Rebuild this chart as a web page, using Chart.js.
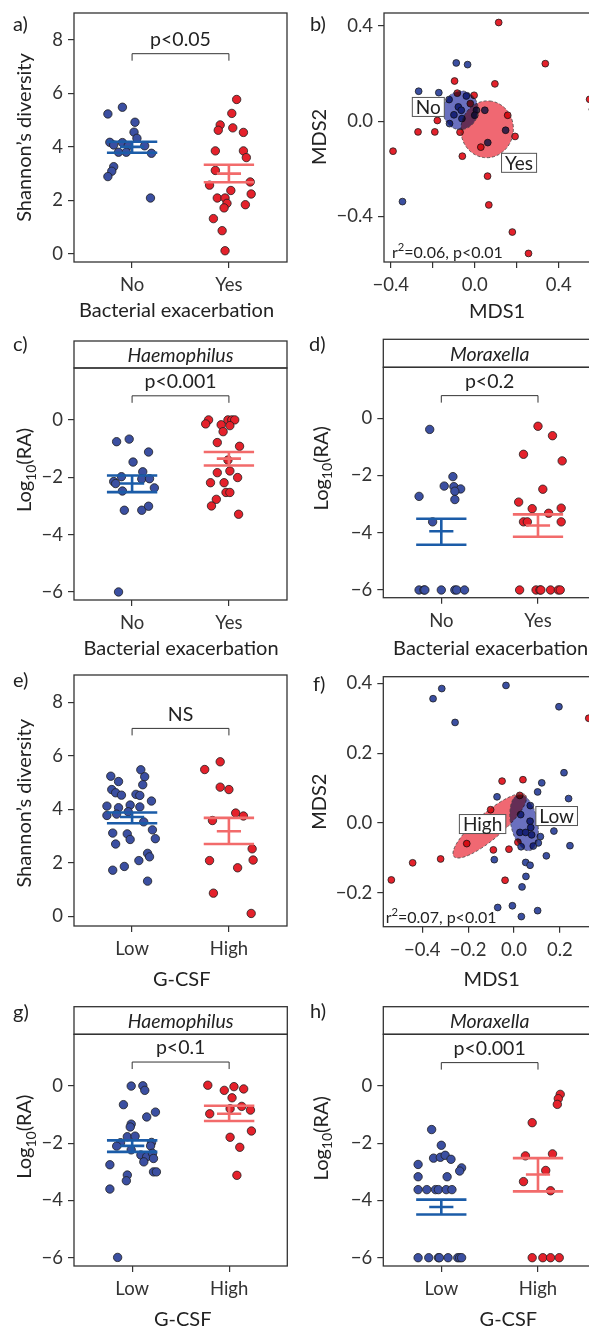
<!DOCTYPE html>
<html>
<head>
<meta charset="utf-8">
<script src="https://cdn.jsdelivr.net/npm/chart.js@4.4.0/dist/chart.umd.min.js"></script>
<style>
  html, body { margin: 0; padding: 0; background: #fff; overflow: hidden; }
  #fig { position: relative; width: 589px; height: 1329px; overflow: hidden; }
  #fig canvas { position: absolute; }
</style>
</head>
<body>
<div id="fig"></div>
<script>
// ---------- data ----------
const catsExac = ["No", "Yes"];
const catsGcsf = ["Low", "High"];

const shannonTicks = [0, 2, 4, 6, 8];
const logTicks = [-6, -4, -2, 0];
const bMds1Ticks = [-0.4, -0.2, 0, 0.2, 0.4];
const bMds1Labels = ["−0.4", "", "0.0", "", "0.4"];
const bMds2Ticks = [-0.4, 0, 0.4];
const bMds2Labels = ["−0.4", "0.0", "0.4"];
const fMds1Ticks = [-0.4, -0.2, 0, 0.2];
const fMds1Labels = ["−0.4", "−0.2", "0.0", "0.2"];
const fMds2Ticks = [-0.2, 0, 0.2, 0.4];
const fMds2Labels = ["−0.2", "0.0", "0.2", "0.4"];

// a) Shannon's diversity vs bacterial exacerbation (jitter = offset from category)
const aNoY = [5.23, 5.48, 4.92, 4.55, 4.32, 4.17, 4.07, 4.16, 4.04, 4.04, 3.80, 3.80, 3.76, 3.26, 3.09, 2.89, 2.09];
const aNoJit = [-0.25, -0.10, 0.03, 0.02, 0.05, -0.23, -0.19, -0.10, -0.04, 0.13, -0.14, -0.06, 0.20, -0.19, -0.21, -0.25, 0.19];
const aYesY = [5.77, 5.25, 4.82, 4.62, 4.71, 4.54, 3.85, 3.85, 3.60, 3.12, 2.57, 2.69, 2.37, 2.24, 2.09, 2.09, 1.89, 1.72, 1.84, 1.32, 0.87, 0.12];
const aYesJit = [0.08, 0.03, -0.09, -0.11, 0.04, 0.15, -0.14, 0.15, 0.18, -0.14, -0.20, 0.22, 0.02, 0.23, -0.12, -0.04, -0.02, -0.05, 0.17, -0.16, -0.07, -0.04];
const aErr = [[4.0, 3.78, 4.19], [3.0, 2.68, 3.33]]; // mean, low, high

// b) MDS by bacterial exacerbation
const bNoMds1 = [-0.088, -0.034, -0.267, -0.171, -0.122, -0.040, -0.078, -0.064, -0.099, -0.061, -0.120, 0.008, 0.000, 0.048, 0.147, 0.062, -0.344];
const bNoMds2 = [0.245, 0.238, 0.126, 0.120, 0.091, 0.106, 0.060, 0.046, 0.027, 0.011, -0.010, 0.046, 0.025, 0.046, -0.038, -0.090, -0.338];
const bYesMds1 = [0.114, 0.336, -0.096, 0.096, -0.083, -0.003, -0.021, -0.270, -0.190, -0.178, 0.157, -0.070, 0.192, 0.029, -0.059, -0.389, 0.061, 0.067, 0.179, 0.256, 0.547, 0.560];
const bYesMds2 = [0.415, 0.242, 0.169, 0.157, 0.118, 0.109, 0.074, -0.045, -0.045, 0.003, 0.025, -0.046, -0.064, -0.109, -0.147, -0.126, -0.231, -0.352, -0.466, -0.556, 0.092, 0.050];
// ellipses (red group first): centre, end of one axis, end of other axis
const bEllipses = [
  [0.059, -0.034, 0.072, 0.085, 0.184, -0.034],
  [-0.067, 0.046, -0.056, 0.127, 0.016, 0.039]
];
const bLabels = [["No", -0.221, 0.060], ["Yes", 0.211, -0.175]];

// c) Haemophilus vs bacterial exacerbation
const cNoY = [-0.76, -0.67, -1.12, -1.47, -1.81, -1.98, -2.15, -2.22, -2.48, -2.06, -2.05, -2.37, -3.15, -3.15, -3.01, -6.0];
const cNoJit = [-0.16, -0.03, 0.17, 0.01, 0.11, -0.11, -0.19, -0.17, -0.10, 0.10, 0.18, 0.23, -0.08, 0.10, 0.17, -0.14];
const cYesY = [0.0, -0.14, -0.17, 0.0, 0.0, 0.0, -0.20, -0.41, -0.79, -0.92, -1.40, -1.84, -1.78, -2.01, -2.19, -2.19, -2.53, -2.53, -2.77, -3.0, -3.29];
const cYesJit = [-0.21, -0.24, -0.08, -0.01, 0.03, 0.06, 0.01, -0.06, -0.12, 0.11, -0.01, -0.12, 0.01, 0.09, -0.19, -0.05, -0.03, 0.01, -0.13, -0.18, 0.10];
const cErr = [[-2.22, -2.52, -1.94], [-1.35, -1.59, -1.12]];

// d) Moraxella vs bacterial exacerbation
const dNoY = [-0.39, -2.04, -2.37, -2.39, -2.47, -2.55, -2.84, -2.73, -3.62, -6, -6, -6, -6, -6, -6, -6];
const dNoJit = [-0.12, 0.12, 0.03, 0.13, 0.20, 0.14, 0.14, -0.23, -0.09, -0.23, -0.18, -0.17, 0.0, 0.14, 0.16, 0.24];
const dYesY = [-0.28, -0.61, -1.26, -1.49, -2.48, -2.93, -3.16, -3.14, -3.32, -3.62, -3.62, -3.62, -6, -6, -6, -6, -6, -6, -6];
const dYesJit = [0.0, 0.15, -0.15, 0.25, 0.05, -0.20, -0.06, 0.24, 0.11, -0.15, -0.11, 0.24, -0.19, -0.02, 0.02, 0.03, 0.13, 0.21, 0.23];
const dErr = [[-3.95, -4.42, -3.51], [-3.75, -4.14, -3.36]];

// e) Shannon's diversity vs G-CSF
const eLowY = [5.24, 5.04, 5.48, 5.22, 4.92, 4.74, 4.62, 4.53, 4.56, 4.52, 4.31, 4.12, 4.06, 4.16, 4.09, 3.91, 3.77, 3.82, 3.53, 3.23, 2.90, 3.11, 3.08, 2.87, 2.70, 2.35, 2.22, 2.08, 1.86, 1.72, 1.31];
const eLowJit = [-0.22, -0.14, 0.09, 0.13, 0.11, -0.21, -0.17, -0.11, 0.04, 0.08, 0.20, -0.26, -0.14, -0.02, 0.08, -0.04, -0.26, -0.16, 0.12, 0.21, 0.24, -0.20, -0.05, -0.02, -0.17, 0.16, 0.18, 0.07, -0.08, -0.20, 0.16];
const eHighY = [5.78, 5.49, 4.83, 4.74, 3.86, 3.75, 3.58, 2.08, 2.52, 2.10, 1.81, 0.86, 0.10];
const eHighJit = [-0.09, -0.25, -0.09, 0.0, 0.07, 0.15, -0.17, -0.20, 0.24, 0.25, 0.09, -0.16, 0.23];
const eErr = [[3.71, 3.48, 3.88], [3.18, 2.70, 3.68]];

// f) MDS by G-CSF
const fLowMds1 = [-0.353, -0.315, -0.257, -0.035, 0.196, 0.218, 0.121, 0.103, 0.238, -0.074, 0.071, 0.029, 0.070, 0.073, 0.026, 0.051, 0.077, 0.115, 0.106, 0.084, 0.031, 0.174, 0.244, 0.141, -0.086, 0.051, 0.070, 0.052, 0.035, -0.071, -0.007, 0.032, 0.103];
const fLowMds2 = [0.356, 0.385, 0.288, 0.394, 0.333, 0.144, 0.115, 0.089, 0.070, 0.075, 0.050, 0.024, 0.005, -0.013, -0.027, -0.027, -0.034, -0.039, -0.057, -0.066, -0.068, -0.023, -0.065, -0.094, -0.105, -0.113, -0.121, -0.153, -0.183, -0.242, -0.237, -0.268, -0.251];
const fHighMds1 = [-0.052, 0.039, -0.102, 0.025, -0.206, -0.090, -0.022, 0.017, -0.320, -0.442, -0.535, -0.039, 0.326];
const fHighMds2 = [0.120, 0.124, 0.038, 0.079, -0.059, -0.077, -0.075, -0.055, -0.103, -0.114, -0.163, -0.164, 0.300];
const fEllipses = [
  [-0.106, -0.008, 0.050, 0.080, -0.069, -0.036],
  [0.044, 0.001, 0.020, 0.081, 0.101, 0.010]
];
const fLabels = [["High", -0.137, -0.003], ["Low", 0.186, 0.020]];

// g) Haemophilus vs G-CSF
const gLowY = [0.0, 0.01, -0.15, -0.65, -0.91, -1.08, -1.33, -1.43, -1.77, -1.75, -1.98, -2.10, -1.97, -2.09, -2.23, -2.41, -2.47, -2.35, -2.53, -2.65, -2.75, -3.11, -3.31, -3.0, -3.0, -3.60, -5.99];
const gLowJit = [-0.01, 0.11, 0.13, -0.09, 0.24, 0.15, -0.01, -0.02, -0.05, 0.03, -0.12, -0.16, 0.20, 0.19, -0.01, 0.09, 0.15, 0.21, 0.22, 0.12, -0.23, -0.05, -0.06, 0.22, 0.25, -0.23, -0.15];
const gHighY = [0.03, -0.15, -0.02, -0.10, -0.41, -0.97, -0.79, -0.71, -0.84, -1.57, -1.79, -2.14, -3.12];
const gHighJit = [-0.22, -0.05, 0.05, 0.15, 0.03, -0.20, 0.01, 0.13, 0.22, 0.23, 0.01, 0.11, 0.08];
const gErr = [[-2.09, -2.30, -1.90], [-0.97, -1.22, -0.69]];

// h) Moraxella vs G-CSF
const hLowY = [-1.52, -2.07, -2.52, -2.49, -2.42, -2.56, -2.74, -2.86, -2.97, -3.17, -3.17, -3.62, -3.62, -3.62, -3.62, -3.62, -3.62, -6, -6, -6, -6, -6, -6, -6, -6];
const hLowJit = [-0.10, 0.0, -0.08, -0.01, 0.04, 0.10, -0.24, 0.21, 0.19, -0.24, 0.06, -0.24, -0.15, -0.06, -0.03, 0.05, 0.11, -0.24, -0.13, -0.03, -0.02, 0.07, 0.17, 0.19, 0.21];
const hHighY = [-0.29, -0.44, -0.64, -1.28, -2.44, -2.37, -2.95, -3.34, -3.66, -6, -6, -6, -6];
const hHighJit = [0.23, 0.21, 0.20, -0.06, -0.13, 0.15, 0.08, -0.15, 0.13, -0.06, 0.05, 0.13, 0.22];
const hErr = [[-4.23, -4.49, -3.97], [-3.09, -3.68, -2.52]];

// ---------- styling ----------
const FONT = "Lato, 'Open Sans', sans-serif";
const TXT = "#222222";
const AXIS = "#333333";
const BLUE = "#3b4fa1";
const RED = "#e4212b";
const BLUE_ERR = "#1b5ca8";
const RED_ERR = "#f26b6b";
const ELL_FILL = ["#f06872", "#6a70bf"];

Chart.defaults.font.family = FONT;
Chart.defaults.color = TXT;

// category + jitter -> points
function jittered(cat, ys, jit) {
  return ys.map((v, i) => ({ x: cat + jit[i], y: v }));
}
function paired(xs, ys) {
  return xs.map((v, i) => ({ x: v, y: ys[i] }));
}

// text with _{sub} / ^{sup} pieces
function richText(ctx, str, x, y, size, align, rotate) {
  const parts = str.split(/(_\{[^}]*\}|\^\{[^}]*\})/).filter(s => s);
  const segs = parts.map(p => {
    if (p[0] === "_") return { t: p.slice(2, -1), s: size * 0.7, dy: size * 0.3 };
    if (p[0] === "^") return { t: p.slice(2, -1), s: size * 0.7, dy: -size * 0.35 };
    return { t: p, s: size, dy: 0 };
  });
  let w = 0;
  segs.forEach(g => { ctx.font = `${g.s}px ${FONT}`; g.w = ctx.measureText(g.t).width; w += g.w; });
  ctx.save();
  ctx.translate(x, y);
  if (rotate) ctx.rotate(-Math.PI / 2);
  ctx.textBaseline = "middle";
  ctx.textAlign = "left";
  let cx = align === "left" ? 0 : -w / 2;
  segs.forEach(g => {
    ctx.font = `${g.s}px ${FONT}`;
    ctx.fillText(g.t, cx, g.dy);
    cx += g.w;
  });
  ctx.restore();
}

function makeDeco(cfg) {
  return {
    id: "deco",
    afterDatasetsDraw(chart) {
      const ctx = chart.ctx, xs = chart.scales.x, ys = chart.scales.y;
      const px = v => xs.getPixelForValue(v), py = v => ys.getPixelForValue(v);
      ctx.save();
      // mean +/- SE bars
      if (cfg.err) {
        cfg.err.forEach((e, i) => {
          const c = i + 1;
          ctx.strokeStyle = i === 0 ? BLUE_ERR : RED_ERR;
          ctx.lineWidth = 2.6;
          ctx.beginPath();
          ctx.moveTo(px(c - 0.26), py(e[2])); ctx.lineTo(px(c + 0.26), py(e[2]));
          ctx.moveTo(px(c - 0.26), py(e[1])); ctx.lineTo(px(c + 0.26), py(e[1]));
          ctx.moveTo(px(c - 0.125), py(e[0])); ctx.lineTo(px(c + 0.125), py(e[0]));
          ctx.moveTo(px(c), py(e[1])); ctx.lineTo(px(c), py(e[2]));
          ctx.stroke();
        });
      }
      // group ellipses, blended over the points
      if (cfg.ellipses) {
        cfg.ellipses.forEach((el, i) => {
          const cx = px(el[0]), cy = py(el[1]);
          const ax = px(el[2]) - cx, ay = py(el[3]) - cy;
          const bx = px(el[4]) - cx, by = py(el[5]) - cy;
          const rx = Math.hypot(ax, ay), ry = Math.hypot(bx, by);
          const ang = Math.atan2(ay, ax);
          ctx.beginPath();
          ctx.ellipse(cx, cy, rx, ry, ang, 0, Math.PI * 2);
          ctx.globalCompositeOperation = "multiply";
          ctx.fillStyle = ELL_FILL[i];
          ctx.fill();
          ctx.globalCompositeOperation = "source-over";
          ctx.setLineDash([3, 2]);
          ctx.strokeStyle = "#444";
          ctx.lineWidth = 0.8;
          ctx.stroke();
          ctx.setLineDash([]);
        });
      }
      if (cfg.labels) {
        cfg.labels.forEach(l => {
          ctx.font = `19px ${FONT}`;
          const w = ctx.measureText(l[0]).width + 7, h = 19;
          const x = px(l[1]), y = py(l[2]);
          ctx.fillStyle = "#fff";
          ctx.fillRect(x - w / 2, y - h / 2, w, h);
          ctx.strokeStyle = "#555";
          ctx.lineWidth = 1;
          ctx.strokeRect(x - w / 2, y - h / 2, w, h);
          ctx.fillStyle = TXT;
          ctx.textAlign = "center";
          ctx.textBaseline = "middle";
          ctx.fillText(l[0], x, y + 1);
        });
      }
      ctx.restore();
    },
    afterDraw(chart) {
      const ctx = chart.ctx, a = chart.chartArea;
      const xs = chart.scales.x, ys = chart.scales.y;
      const ox = cfg.pos[0], oy = cfg.pos[1];
      ctx.save();
      ctx.strokeStyle = AXIS;
      ctx.lineWidth = 1.3;
      ctx.strokeRect(a.left, a.top, a.right - a.left, a.bottom - a.top);
      ctx.fillStyle = TXT;
      if (cfg.strip) {
        const st = cfg.strip[1] - oy;
        ctx.strokeRect(a.left, st, a.right - a.left, a.top - st);
        ctx.font = `italic 19.5px ${FONT}`;
        ctx.textAlign = "center";
        ctx.textBaseline = "middle";
        ctx.fillText(cfg.strip[0], (a.left + a.right) / 2, (st + a.top) / 2 + 1);
      }
      if (cfg.bracket) {
        const yb = ys.getPixelForValue(cfg.bracket[0]);
        const x1 = xs.getPixelForValue(1), x2 = xs.getPixelForValue(2);
        ctx.lineWidth = 1;
        ctx.beginPath();
        ctx.moveTo(x1, yb + 7); ctx.lineTo(x1, yb); ctx.lineTo(x2, yb); ctx.lineTo(x2, yb + 7);
        ctx.stroke();
        ctx.font = `19.5px ${FONT}`;
        ctx.textAlign = "center";
        ctx.textBaseline = "middle";
        ctx.fillText(cfg.bracket[1], (x1 + x2) / 2, yb - 14);
      }
      if (cfg.note) richText(ctx, cfg.note[0], cfg.note[1] - ox, cfg.note[2] - oy, 16, "left", false);
      richText(ctx, cfg.tag[0], cfg.tag[1] - ox, cfg.tag[2] - oy, 20, "left", false);
      richText(ctx, cfg.xTitle[0], cfg.xTitle[1] - ox, cfg.xTitle[2] - oy, 20, "center", false);
      richText(ctx, cfg.yTitle[0], cfg.yTitle[1] - ox, cfg.yTitle[2] - oy, 20, "center", true);
      ctx.restore();
    }
  };
}

function scaleOpts(range, ticks, labels, pad, fitFn) {
  return {
    type: "linear",
    min: range[0],
    max: range[1],
    bounds: "data",
    afterBuildTicks: s => { s.ticks = ticks.map(v => ({ value: v })); },
    afterFit: fitFn,
    ticks: {
      callback: (v, i) => labels[i],
      font: { size: 18.5, family: FONT },
      color: AXIS,
      padding: pad,
      maxRotation: 0,
      autoSkip: false
    },
    grid: { drawOnChartArea: false, drawTicks: true, tickLength: 6, color: AXIS, lineWidth: 1.2 },
    border: { display: false }
  };
}

function panel(cfg) {
  const [left, top, W, H] = cfg.pos;
  const ar = cfg.area;
  const cv = document.createElement("canvas");
  cv.width = W; cv.height = H;
  cv.style.left = left + "px"; cv.style.top = top + "px";
  cv.style.width = W + "px"; cv.style.height = H + "px";
  document.getElementById("fig").appendChild(cv);
  new Chart(cv, {
    type: "scatter",
    data: {
      datasets: cfg.sets.map((d, i) => ({
        data: d,
        pointRadius: cfg.r,
        pointHoverRadius: cfg.r,
        pointBackgroundColor: i === 0 ? BLUE : RED,
        pointBorderColor: "#1e1e1e",
        pointBorderWidth: 0.8
      }))
    },
    options: {
      responsive: false,
      animation: false,
      events: [],
      layout: { padding: { top: ar[1], right: W - ar[2], left: 0, bottom: 0 } },
      plugins: { legend: { display: false }, tooltip: { enabled: false } },
      scales: {
        x: scaleOpts(cfg.xRange, cfg.xTicks, cfg.xLabels, 6, s => { s.height = H - ar[3]; s.paddingLeft = 0; s.paddingRight = 0; }),
        y: scaleOpts(cfg.yRange, cfg.yTicks, cfg.yLabels, 5, s => { s.width = ar[0]; s.paddingTop = 0; s.paddingBottom = 0; })
      }
    },
    plugins: [makeDeco(cfg)]
  });
}

const CAT = [0.4, 2.6];
const shLabels = shannonTicks.map(String);
const logLabels = logTicks.map(v => (v < 0 ? "−" + Math.abs(v) : String(v)));

panel({
  pos: [0, 0, 295, 330], area: [74, 13, 287, 262], r: 4.2,
  xRange: CAT, xTicks: [1, 2], xLabels: catsExac,
  yRange: [-0.3, 9.0], yTicks: shannonTicks, yLabels: shLabels,
  sets: [jittered(1, aNoY, aNoJit), jittered(2, aYesY, aYesJit)],
  err: aErr, bracket: [7.48, "p<0.05"],
  tag: ["a)", 13, 25], xTitle: ["Bacterial exacerbation", 176.5, 311], yTitle: ["Shannon’s diversity", 25, 137.5]
});

panel({
  pos: [295, 0, 330, 330], area: [89, 13, 315, 262], r: 3.4,
  xRange: [-0.432, 0.644], xTicks: bMds1Ticks, xLabels: bMds1Labels,
  yRange: [-0.592, 0.455], yTicks: bMds2Ticks, yLabels: bMds2Labels,
  sets: [paired(bNoMds1, bNoMds2), paired(bYesMds1, bYesMds2)],
  ellipses: bEllipses, labels: bLabels,
  note: ["r^{2}=0.06, p<0.01", 392, 253],
  tag: ["b)", 310, 25], xTitle: ["MDS1", 497, 311.7], yTitle: ["MDS2", 320, 137]
});

panel({
  pos: [0, 330, 295, 330], area: [74, 38, 287, 270], r: 4.2,
  xRange: CAT, xTicks: [1, 2], xLabels: catsExac,
  yRange: [-6.28, 1.81], yTicks: logTicks, yLabels: logLabels,
  sets: [jittered(1, cNoY, cNoJit), jittered(2, cYesY, cYesJit)],
  err: cErr, bracket: [0.84, "p<0.001"], strip: ["Haemophilus", 341],
  tag: ["c)", 13, 345], xTitle: ["Bacterial exacerbation", 181, 649], yTitle: ["Log_{10}(RA)", 25, 470]
});

panel({
  pos: [295, 330, 330, 330], area: [88.3, 37.3, 301, 267.7], r: 4.2,
  xRange: CAT, xTicks: [1, 2], xLabels: catsExac,
  yRange: [-6.27, 1.78], yTicks: logTicks, yLabels: logLabels,
  sets: [jittered(1, dNoY, dNoJit), jittered(2, dYesY, dYesJit)],
  err: dErr, bracket: [0.79, "p<0.2"], strip: ["Moraxella", 339.3],
  tag: ["d)", 309, 345], xTitle: ["Bacterial exacerbation", 490.7, 648.3], yTitle: ["Log_{10}(RA)", 321.7, 468.3]
});

panel({
  pos: [0, 660, 295, 330], area: [74, 15, 287, 266], r: 4.2,
  xRange: CAT, xTicks: [1, 2], xLabels: catsGcsf,
  yRange: [-0.37, 9.03], yTicks: shannonTicks, yLabels: shLabels,
  sets: [jittered(1, eLowY, eLowJit), jittered(2, eHighY, eHighJit)],
  err: eErr, bracket: [7.03, "NS"],
  tag: ["e)", 13, 681], xTitle: ["G-CSF", 181.7, 980], yTitle: ["Shannon’s diversity", 25, 803.3]
});

panel({
  pos: [295, 660, 330, 330], area: [88.3, 16.7, 305, 266.7], r: 3.4,
  xRange: [-0.570, 0.375], xTicks: fMds1Ticks, xLabels: fMds1Labels,
  yRange: [-0.297, 0.419], yTicks: fMds2Ticks, yLabels: fMds2Labels,
  sets: [paired(fLowMds1, fLowMds2), paired(fHighMds1, fHighMds2)],
  ellipses: fEllipses, labels: fLabels,
  note: ["r^{2}=0.07, p<0.01", 385.7, 917.7],
  tag: ["f)", 313, 685], xTitle: ["MDS1", 491.7, 980], yTitle: ["MDS2", 320, 801.7]
});

panel({
  pos: [0, 990, 295, 339], area: [74, 44.3, 287.3, 276], r: 4.2,
  xRange: CAT, xTicks: [1, 2], xLabels: catsGcsf,
  yRange: [-6.29, 1.81], yTicks: logTicks, yLabels: logLabels,
  sets: [jittered(1, gLowY, gLowJit), jittered(2, gHighY, gHighJit)],
  err: gErr, bracket: [0.84, "p<0.1"], strip: ["Haemophilus", 1006.7],
  tag: ["g)", 13, 1013], xTitle: ["G-CSF", 182.7, 1320], yTitle: ["Log_{10}(RA)", 25, 1136.7]
});

panel({
  pos: [295, 990, 330, 339], area: [88.3, 44.3, 301, 276], r: 4.2,
  xRange: CAT, xTicks: [1, 2], xLabels: catsGcsf,
  yRange: [-6.29, 1.81], yTicks: logTicks, yLabels: logLabels,
  sets: [jittered(1, hLowY, hLowJit), jittered(2, hHighY, hHighJit)],
  err: hErr, bracket: [0.82, "p<0.001"], strip: ["Moraxella", 1006.7],
  tag: ["h)", 310, 1012], xTitle: ["G-CSF", 508.3, 1320], yTitle: ["Log_{10}(RA)", 321.7, 1138.3]
});
</script>
</body>
</html>
